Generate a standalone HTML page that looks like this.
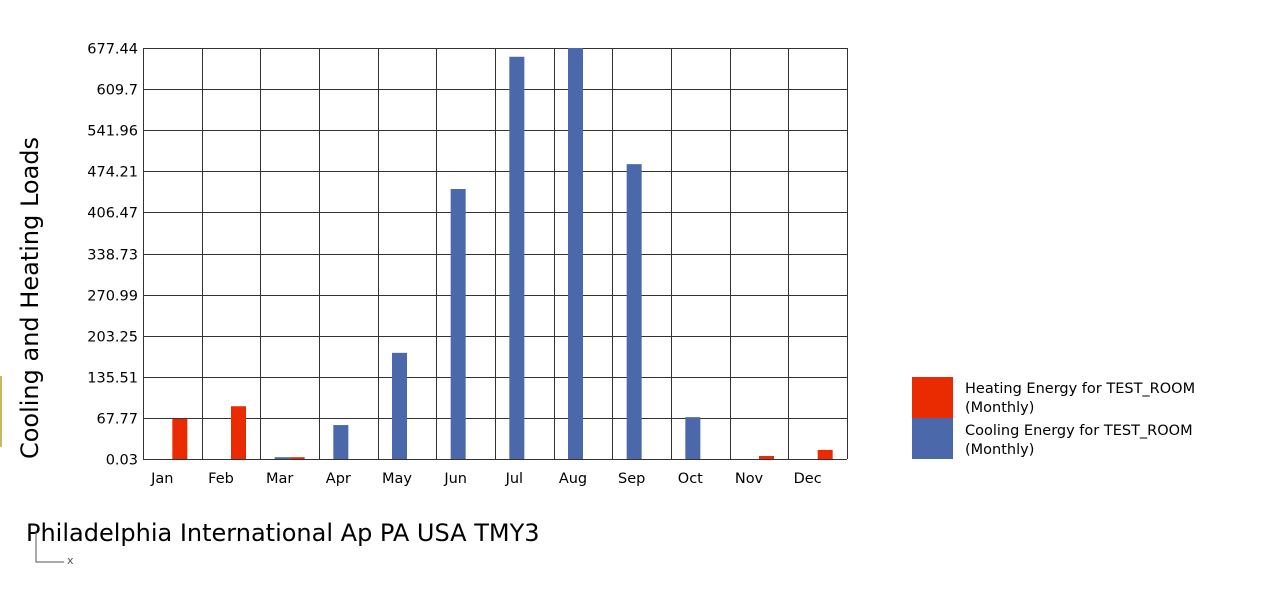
<!DOCTYPE html>
<html><head><meta charset="utf-8"><style>
body{margin:0;background:#fff;width:1276px;height:598px;overflow:hidden;font-family:"DejaVu Sans","Liberation Sans",sans-serif}
</style></head><body>
<svg width="1276" height="598" xmlns="http://www.w3.org/2000/svg" font-family="DejaVu Sans, Liberation Sans, sans-serif">
<rect x="0" y="376" width="2" height="71" fill="#c8b860"/>
<g id="grid"></g>
<g id="bars"></g>
<g id="labels"></g>
<text transform="translate(38,298) rotate(-90)" text-anchor="middle" font-size="24" fill="#000">Cooling and Heating Loads</text>
<text x="26" y="541" font-size="24" fill="#000">Philadelphia International Ap PA USA TMY3</text>
<path d="M36 531 V562 H64" stroke="#555" fill="none"/>
<text x="67" y="564" font-size="11" fill="#555">x</text>
<rect x="912" y="377" width="41" height="41" fill="#ea2a00"/>
<rect x="912" y="418" width="41" height="41" fill="#4a68aa"/>
<text x="965" y="393" font-size="14.5" fill="#000"><tspan x="965">Heating Energy for TEST_ROOM</tspan><tspan x="965" dy="19">(Monthly)</tspan></text>
<text x="965" y="435" font-size="14.5" fill="#000"><tspan x="965">Cooling Energy for TEST_ROOM</tspan><tspan x="965" dy="19">(Monthly)</tspan></text>
</svg>
<script>
const months=["Jan","Feb","Mar","Apr","May","Jun","Jul","Aug","Sep","Oct","Nov","Dec"];
const heating=[66,87,3,0,0,0,0,0,0,0,5,15];
const cooling=[0,0,3,56,175,445,663,677.44,486,69,0,0];
const ticks=[0.03,67.77,135.51,203.25,270.99,338.73,406.47,474.21,541.96,609.7,677.44];
const X0=143,X1=847,Y0=459,Y1=48,ymin=0.03,ymax=677.44;
const cw=(X1-X0)/months.length;
const ys=v=>Y0-(v-ymin)/(ymax-ymin)*(Y0-Y1);
const NS="http://www.w3.org/2000/svg";
const grid=document.getElementById('grid'),bars=document.getElementById('bars'),labels=document.getElementById('labels');
function mk(tag,attrs,parent){const e=document.createElementNS(NS,tag);for(const k in attrs)e.setAttribute(k,attrs[k]);parent.appendChild(e);return e;}
ticks.forEach((t,i)=>{const y=Math.round(ys(t))+0.5;
 const l=mk('line',{x1:X0,x2:X1,y1:y,y2:y,stroke:'#333','stroke-width':1},grid);
 
 
 const tx=mk('text',{x:X0-5,y:y+5,'text-anchor':'end','font-size':14.5,fill:'#000'},labels);
 tx.textContent=t;
 
 
});
for(let i=0;i<=months.length;i++){const x=Math.round(X0+i*cw)+0.5;
 const l=mk('line',{x1:x,x2:x,y1:Y1,y2:Y0,stroke:'#333','stroke-width':1},grid);
 
 }
months.forEach((m,i)=>{const c=X0+i*cw+cw/2;
 if(cooling[i]>0){const y=ys(cooling[i]);const r=mk('rect',{x:c-15,y:y,width:15,height:Y0-y,fill:'#4a68aa'},bars);
  
  }
 if(heating[i]>0){const y=ys(heating[i]);const r=mk('rect',{x:c,y:y,width:15,height:Y0-y,fill:'#ea2a00'},bars);
  
  }
 const tx=mk('text',{x:c-10,y:483,'text-anchor':'middle','font-size':14.5,fill:'#000'},labels);
 tx.textContent=m;
 
 
});
</script>
</body></html>
